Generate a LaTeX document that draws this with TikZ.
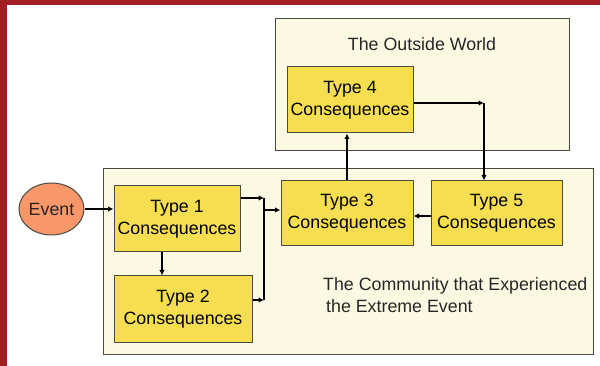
\documentclass[tikz,border=0pt]{standalone}
\usepackage{fontspec}
\setmainfont{Liberation Sans}
\usetikzlibrary{arrows.meta,shapes.geometric}
\definecolor{frameRed}{HTML}{A01E24}
\definecolor{creamFill}{HTML}{FCF9E3}
\definecolor{boxYellow}{HTML}{F7DE50}
\definecolor{eventFill}{HTML}{F7976A}
\definecolor{edgeGray}{HTML}{4A4A40}
\tikzset{
  panel/.style={draw=edgeGray, fill=creamFill, line width=1pt},
  consbox/.style={draw=edgeGray, fill=boxYellow, line width=1pt, align=center,
    font=\fontsize{17.8}{22}\selectfont, inner sep=0pt},
  lbl/.style={font=\fontsize{17.8}{22}\selectfont, text=black!85, inner sep=0pt},
  flow/.style={line width=1.4pt, -{Latex[length=5.5pt,width=5.5pt]}},
  plain/.style={line width=1.4pt}
}
\begin{document}
\begin{tikzpicture}[x=1pt,y=-1pt]
\useasboundingbox (0,0) rectangle (600,366);
\fill[white] (0,0) rectangle (600,366);
\fill[frameRed] (0,0) rectangle (7,366);
\fill[frameRed] (0,0) rectangle (600,5);
% panels
\draw[panel] (275,19) rectangle (569,151);
\draw[panel] (103,169) rectangle (593,354);
\node[lbl] (ow) at (422,44) {The Outside World};
\node[lbl, align=left, anchor=north west] (comm) at (323,277) {The Community that Experienced\\\hspace{3pt}the Extreme Event};
% nodes
\node[lbl, draw=edgeGray, fill=eventFill, ellipse, line width=1pt, minimum width=65pt, minimum height=52pt, inner sep=0pt] (ev) at (51.5,209) {Event};
\node[consbox, minimum width=126pt, minimum height=66pt] (t1) at (177,219) {Type 1\\Consequences};
\node[consbox, minimum width=138pt, minimum height=66pt] (t2) at (183,309) {Type 2\\Consequences};
\node[consbox, minimum width=132pt, minimum height=65pt] (t3) at (347,213.5) {Type 3\\Consequences};
\node[consbox, minimum width=131pt, minimum height=65pt] (t5) at (496.5,213.5) {Type 5\\Consequences};
\node[consbox, minimum width=126pt, minimum height=66pt] (t4) at (350,100) {Type 4\\Consequences};
% junctions
\coordinate (ja) at (264,198);
\coordinate (jb) at (264,300);
\coordinate (jc) at (264,210);
\coordinate (jd) at (484,103);
\coordinate (je) at (0,216);
\coordinate (xa) at (162,0);
% connectors
\draw[flow] (ev.east) -- (ev.east -| t1.west);
\draw[flow] (t1.south -| xa) -- (t2.north -| xa);
\draw[flow] (t1.east |- ja) -- (ja);
\draw[flow] (t2.east |- jb) -- (jb);
\draw[plain] (ja) -- (jb);
\draw[flow] (jc) -- (jc -| t3.west);
\draw[flow] (t3.north) -- (t3.north |- t4.south);
\draw[flow] (t4.east |- jd) -- (jd);
\draw[flow] (jd) -- (jd |- t5.north);
\draw[flow] (t5.west |- je) -- (t3.east |- je);
\end{tikzpicture}
\end{document}
